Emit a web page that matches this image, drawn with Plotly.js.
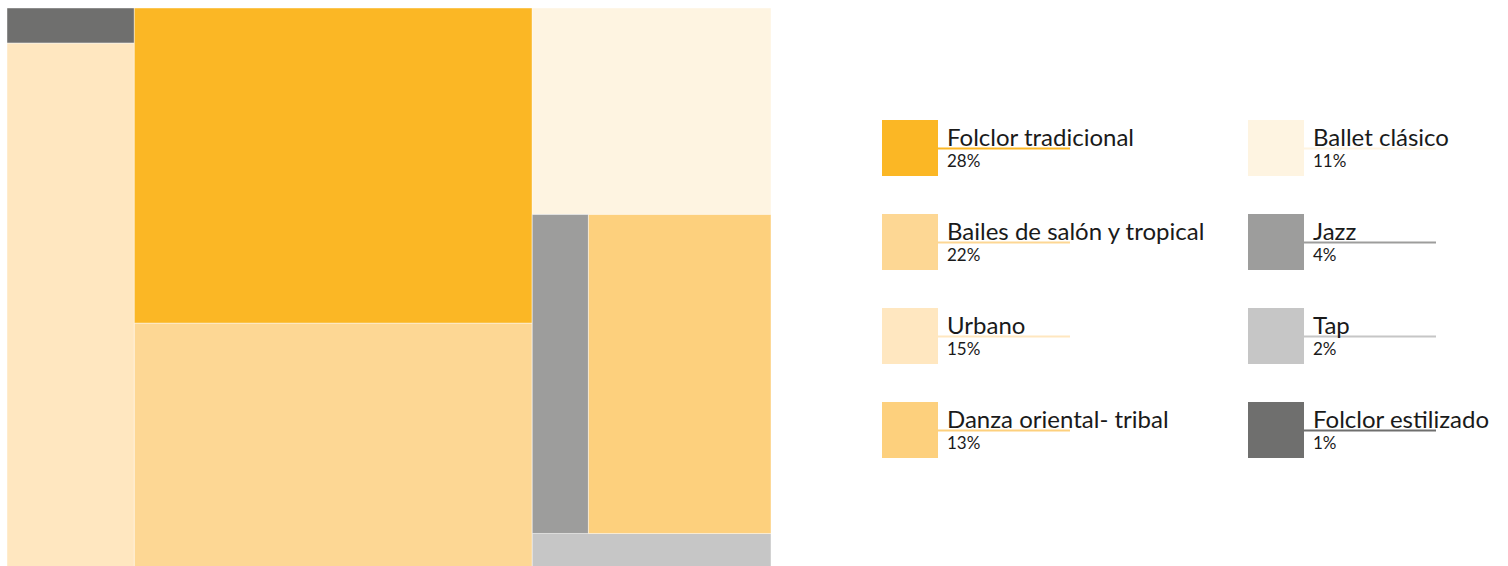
<!DOCTYPE html>
<html>
<head>
<meta charset="utf-8">
<script src="https://cdn.plot.ly/plotly-3.0.1.min.js"></script>
<style>
html,body{margin:0;padding:0;background:#fff;overflow:hidden;}
#chart{width:1508px;height:571px;}
</style>
</head>
<body>
<div id="chart"></div>
<script>
// ---- data ----
const categories = ['Folclor tradicional','Bailes de salón y tropical','Urbano','Danza oriental- tribal','Ballet clásico','Jazz','Tap','Folclor estilizado'];
const percents   = [28, 22, 15, 13, 11, 4, 2, 1];
const colors     = ['#FBB725','#FDD794','#FFE7C0','#FDD07D','#FEF4E1','#9D9D9C','#C6C6C6','#6F6F6E'];
const lineColors = ['#FBB725','#FDD794','#FFE7C0','#FDD07D','#FEF4E1','#9D9D9C','#C6C6C6','#6F6F6E'];
// treemap grouping (structure only)
const groupIds     = ['root','colA','colB','colC','rowJD'];
const groupParents = ['',    'root','root','root','colC'];
// leaf parent groups
const leafOrder   = ['Folclor estilizado','Urbano','Folclor tradicional','Bailes de salón y tropical','Ballet clásico','Tap','Jazz','Danza oriental- tribal'];
const leafParents = ['colA','colA','colB','colB','colC','colC','rowJD','rowJD'];

// ---- build treemap ----
const W = 1508, H = 571;
const ids = [], parents = [], values = [], mcolors = [], labelsT = [];
// ordering so that rowJD sits between Ballet and Tap
const orderedIds = ['root','colA','colB','colC',
  'Folclor estilizado','Urbano','Folclor tradicional','Bailes de salón y tropical',
  'Ballet clásico','rowJD','Tap','Jazz','Danza oriental- tribal'];
function parentOf(id){
  const gi = groupIds.indexOf(id);
  if (gi >= 0) return groupParents[gi];
  return leafParents[leafOrder.indexOf(id)];
}
function valueOf(id){
  const ci = categories.indexOf(id);
  if (ci >= 0) return percents[ci];
  let s = 0;
  orderedIds.forEach(k => { if (parentOf(k) === id) s += valueOf(k); });
  return s;
}
orderedIds.forEach(id => {
  ids.push(id);
  parents.push(parentOf(id));
  values.push(valueOf(id));
  const ci = categories.indexOf(id);
  mcolors.push(ci >= 0 ? colors[ci] : '#ffffff');
  labelsT.push(ci >= 0 ? id : '');
});

const trace = {
  type: 'treemap',
  ids: ids, labels: labelsT, parents: parents, values: values,
  branchvalues: 'total',
  sort: false,
  textinfo: 'none',
  hoverinfo: 'label+value',
  tiling: {packing: 'slice-dice', pad: 0},
  pathbar: {visible: false},
  marker: {colors: mcolors, line: {width: 0.6, color: 'rgba(255,255,255,0.7)'}, pad: {t:0, l:0, r:0, b:0}},
  domain: {x: [7/W, 771/W], y: [0, 1 - 8/H]}
};

// ---- legend (layout) ----
const shapes = [], annotations = [];
const px = x => x / W, py = y => 1 - y / H;
categories.forEach((c, i) => {
  const col = Math.floor(i / 4), row = i % 4;
  const sx = 882 + col * 366, sy = 120 + row * 94;
  shapes.push({type:'rect', xref:'paper', yref:'paper', x0:px(sx), x1:px(sx+56), y0:py(sy), y1:py(sy+56),
    fillcolor: colors[i], line:{width:0}, layer:'above'});
  shapes.push({type:'line', xref:'paper', yref:'paper', x0:px(sx+56), x1:px(sx+188), y0:py(sy+28.5), y1:py(sy+28.5),
    line:{color: lineColors[i], width: 2}, layer:'above'});
  annotations.push({xref:'paper', yref:'paper', x:px(sx+63), y:py(sy+16), xanchor:'left', yanchor:'middle',
    text: c, showarrow:false, font:{family:'Lato, sans-serif', size:24, color:'#1a1a1a'}});
  annotations.push({xref:'paper', yref:'paper', x:px(sx+63), y:py(sy+40), xanchor:'left', yanchor:'middle',
    text: percents[i] + '%', showarrow:false, font:{family:'Lato, sans-serif', size:17, color:'#1a1a1a'}});
});

const layout = {
  width: W, height: H,
  margin: {l:0, r:0, t:0, b:0},
  paper_bgcolor: '#ffffff',
  showlegend: false,
  shapes: shapes,
  annotations: annotations
};
Plotly.newPlot('chart', [trace], layout, {displayModeBar: false});
</script>
</body>
</html>
